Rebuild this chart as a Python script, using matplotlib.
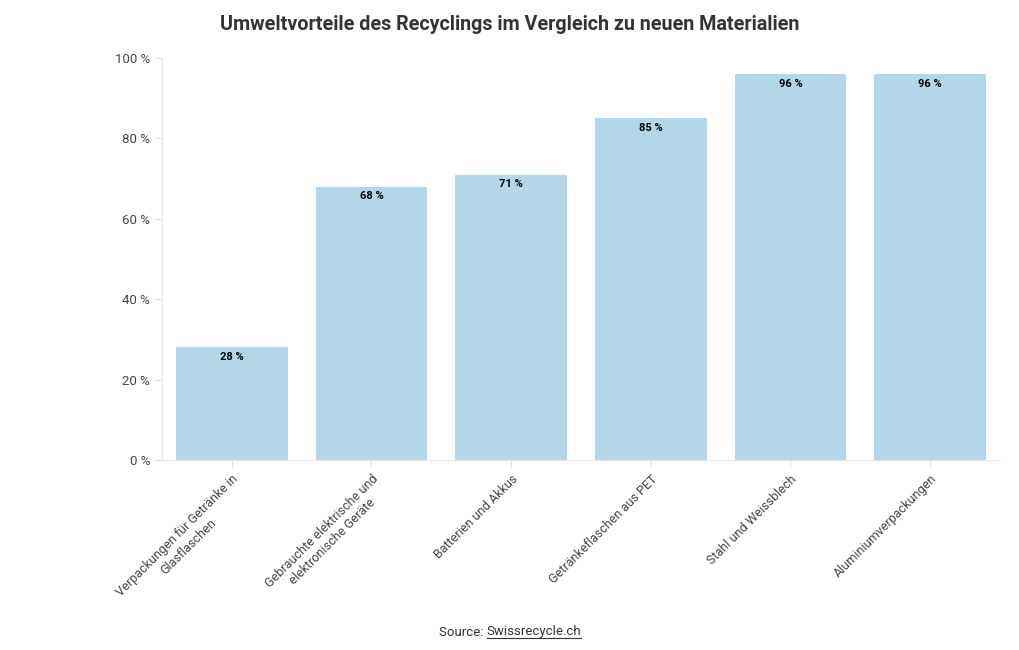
import matplotlib
matplotlib.use("Agg")
import matplotlib.pyplot as plt
from matplotlib.lines import Line2D

plt.rcParams['font.family'] = ['Roboto', 'DejaVu Sans']

categories = ["Verpackungen für Getränke in\nGlasflaschen",
              "Gebrauchte elektrische und\nelektronische Geräte",
              "Batterien und Akkus",
              "Getränkeflaschen aus PET",
              "Stahl und Weissblech",
              "Aluminiumverpackungen"]
values = [28, 68, 71, 85, 96, 96]
yticks = [0, 20, 40, 60, 80, 100]

fig = plt.figure(figsize=(10.2, 6.5), dpi=100)
ax = fig.add_axes([162/1020, 1 - 460/650, (1000-162)/1020, (460-58)/650])

x = list(range(len(categories)))
ax.bar(x, values, width=0.8, color="#b3d7e8")
for xi, v in zip(x, values):
    ax.text(xi, v - 1.2, f"{v} %", ha="center", va="top", fontsize=8,
            fontweight="bold", color="black")

ax.set_xlim(-0.5, len(categories) - 0.5)
ax.set_ylim(0, 100)
ax.set_yticks(yticks)
ax.set_yticklabels([f"{t} %" for t in yticks], fontsize=9.5)
ax.set_xticks(x)
ax.set_xticklabels(categories, rotation=45, ha="right", rotation_mode="anchor",
                   multialignment="center", fontsize=9)
ax.tick_params(axis="both", colors="#dddddd", labelcolor="#444444",
               length=5, width=0.8)
ax.tick_params(axis="x", pad=4)
for s in ["top", "right"]:
    ax.spines[s].set_visible(False)
for s in ["left", "bottom"]:
    ax.spines[s].set_color("#e6e6e6")
    ax.spines[s].set_linewidth(0.8)

fig.text(0.5, 1 - 24/650, "Umweltvorteile des Recyclings im Vergleich zu neuen Materialien",
         ha="center", va="center", fontsize=14.2, fontweight="bold", color="#333333")

# source line with underlined link
y_src = 1 - 632/650
t1 = fig.text(0.5, y_src, "Source: ", ha="right", va="center", fontsize=9.5, color="#333333")
t2 = fig.text(0.5, y_src, "Swissrecycle.ch", ha="left", va="center", fontsize=9.5, color="#333333")
fig.canvas.draw()
r = fig.canvas.get_renderer()
b1 = t1.get_window_extent(r)
b2 = t2.get_window_extent(r)
total = b1.width + b2.width
left = (1020 - total) / 2
t1.set_position(((left + b1.width) / 1020, y_src))
t2.set_position(((left + b1.width) / 1020, y_src))
uy = (b2.y0 + 0.5) / 650
fig.add_artist(Line2D([(left + b1.width) / 1020, (left + total) / 1020], [uy, uy],
                      color="#333333", linewidth=0.8))

fig.savefig("out.png", dpi=100)
